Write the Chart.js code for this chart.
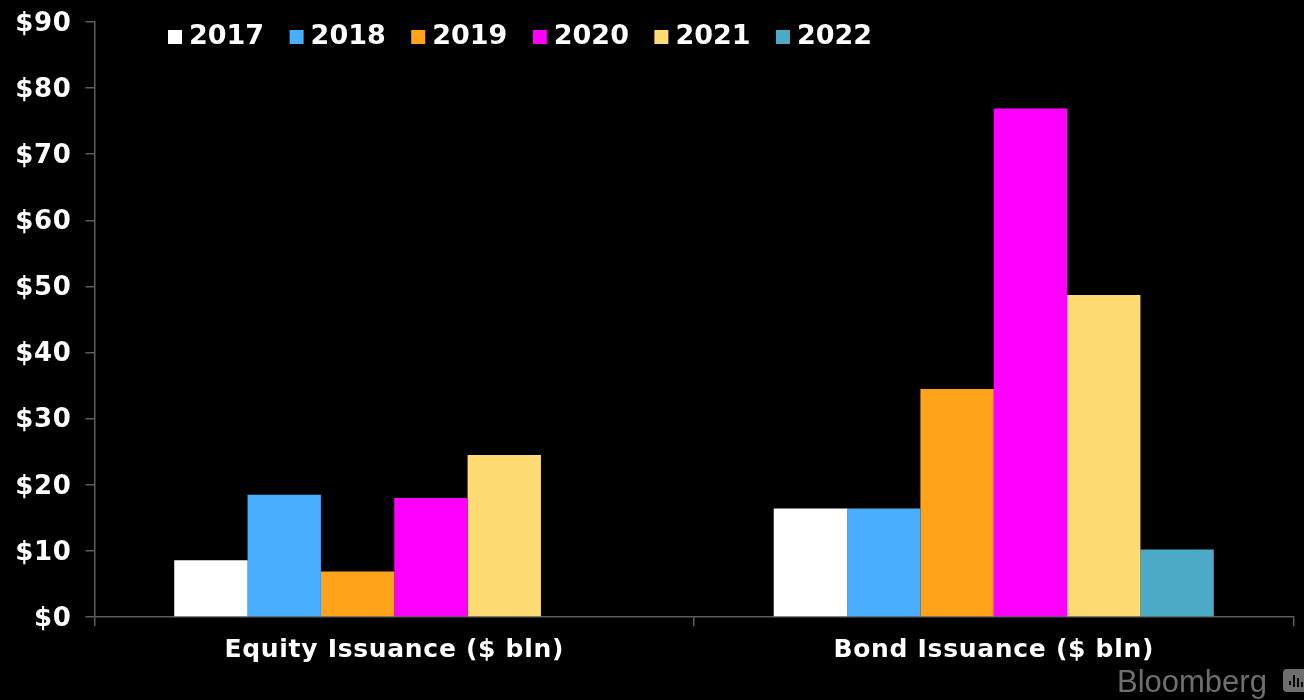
<!DOCTYPE html>
<html>
<head>
<meta charset="utf-8">
<title>Issuance by year</title>
<script src="https://cdn.jsdelivr.net/npm/chart.js@4.4.0/dist/chart.umd.min.js"></script>
<style>
  html, body { margin: 0; padding: 0; background: #000; }
  #wrap { position: relative; width: 1304px; height: 700px; overflow: hidden; }
</style>
</head>
<body>
<div id="wrap"><canvas id="issuance" width="1304" height="700"></canvas></div>
<script>
const categories = ['Equity Issuance ($ bln)', 'Bond Issuance ($ bln)'];
const years = ['2017', '2018', '2019', '2020', '2021', '2022'];
const yearColors = ['#ffffff', '#4aaeff', '#ffa31a', '#ff00ff', '#ffdc73', '#4babc6'];
const values2017 = [8.6, 16.4];
const values2018 = [18.5, 16.4];
const values2019 = [6.9, 34.5];
const values2020 = [18.0, 76.9];
const values2021 = [24.5, 48.7];
const values2022 = [null, 10.2];
const allValues = [values2017, values2018, values2019, values2020, values2021, values2022];

const axisColor = '#5c5c5c';

// the labels are set a touch wider than the stock bold face
const wideText = {
  id: 'wideText',
  beforeDraw(chart) {
    chart.ctx.letterSpacing = '0.7px';
  }
};

// legend row inside the top of the plot, plus the wordmark in the corner
const overlay = {
  id: 'overlay',
  afterDraw(chart) {
    const ctx = chart.ctx;
    ctx.save();
    ctx.textBaseline = 'middle';
    ctx.font = 'bold 27px "DejaVu Sans"';
    ctx.letterSpacing = '0px';
    years.forEach((year, i) => {
      const x = 168 + i * 121.6;
      ctx.fillStyle = yearColors[i];
      ctx.fillRect(x, 30, 14, 14);
      ctx.fillStyle = '#ffffff';
      ctx.fillText(year, x + 21, 37);
    });

    ctx.fillStyle = '#6e6e6e';
    ctx.font = '31px "Liberation Sans"';
    ctx.textBaseline = 'alphabetic';
    ctx.fillText('Bloomberg', 1117, 692);

    // chat-bubble mark, runs off the right edge
    ctx.beginPath();
    ctx.roundRect(1283, 669, 30, 23, 4);
    ctx.fill();
    ctx.fillStyle = '#000000';
    [[1289, 681, 4], [1293, 675, 12], [1297, 678, 9], [1301, 682, 5]].forEach(([x, y, h]) => {
      ctx.fillRect(x, y, 2, h);
    });
    ctx.restore();
  }
};

new Chart(document.getElementById('issuance'), {
  type: 'bar',
  data: {
    labels: categories,
    datasets: years.map((year, i) => ({
      label: year,
      data: allValues[i],
      backgroundColor: yearColors[i],
      borderWidth: 0,
      categoryPercentage: 0.734,
      barPercentage: 1
    }))
  },
  options: {
    responsive: false,
    animation: false,
    layout: { padding: { top: 22, right: 10.5, bottom: 0, left: 0 } },
    plugins: { legend: { display: false }, tooltip: { enabled: false } },
    scales: {
      x: {
        afterFit(axis) { axis.height = 83; },
        grid: { offset: true, drawOnChartArea: false, color: axisColor, tickLength: 9, lineWidth: 1.5 },
        border: { color: axisColor, width: 1.5 },
        ticks: { color: '#ffffff', font: { family: 'DejaVu Sans', weight: 'bold', size: 25 }, padding: 9, maxRotation: 0 }
      },
      y: {
        min: 0,
        max: 90,
        afterFit(axis) { axis.width = 94.5; axis.paddingTop = 0; axis.paddingBottom = 0; },
        grid: { drawOnChartArea: false, color: axisColor, tickLength: 9, lineWidth: 1.5 },
        border: { color: axisColor, width: 1.5 },
        ticks: {
          stepSize: 10,
          color: '#ffffff',
          font: { family: 'DejaVu Sans', weight: 'bold', size: 26 },
          padding: 14,
          labelOffset: 2,
          callback: v => '$' + v
        }
      }
    }
  },
  plugins: [wideText, overlay]
});
</script>
</body>
</html>
